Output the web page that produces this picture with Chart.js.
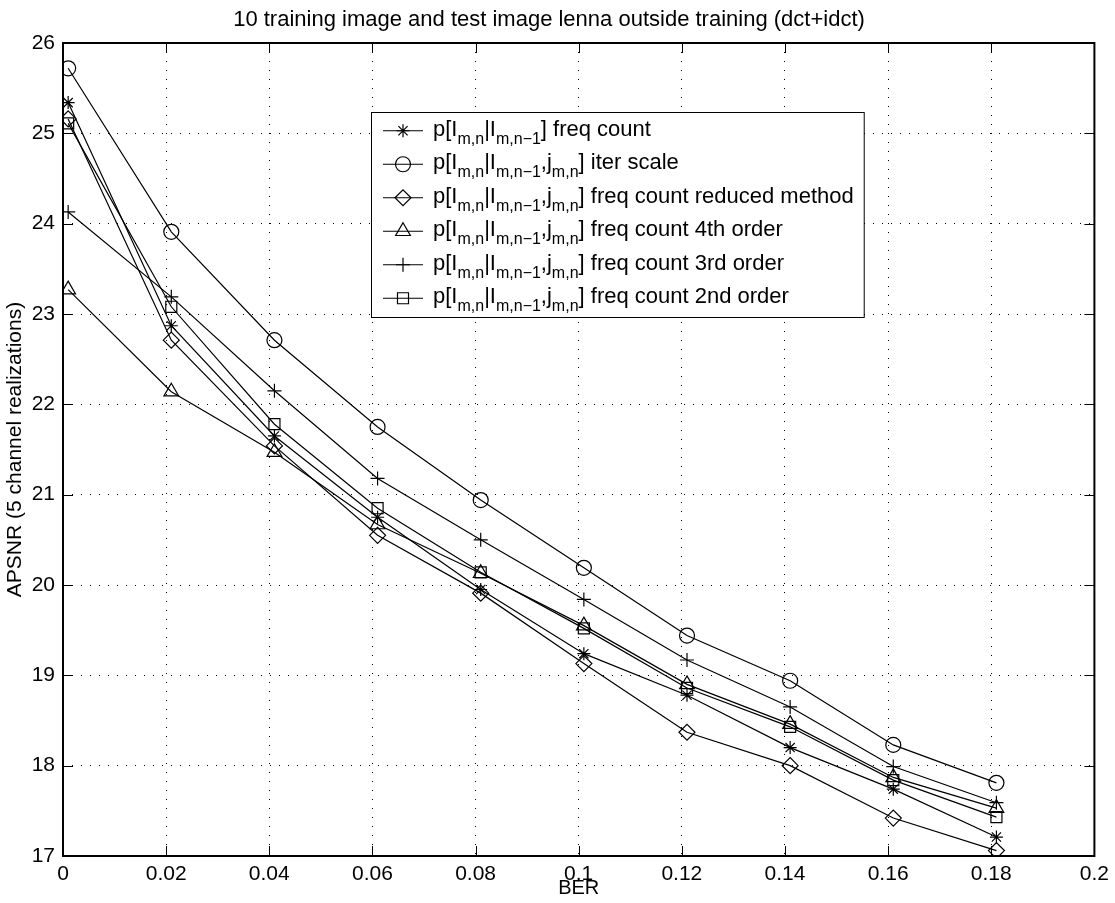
<!DOCTYPE html>
<html><head><meta charset="utf-8">
<script src="https://cdn.jsdelivr.net/npm/chart.js@4/dist/chart.umd.min.js"></script>
<style>html,body{margin:0;padding:0;background:#fff}#wrap{width:1115px;height:903px}</style>
</head><body><div id="wrap"><canvas id="c" width="1115" height="903"></canvas></div>
<script>
// ---- data ----
const berValues     = [0.001,0.021,0.041,0.061,0.081,0.101,0.121,0.141,0.161,0.181];
const freqCount     = [25.34,22.87,21.65,20.75,19.95,19.24,18.78,18.20,17.74,17.21];
const iterScale     = [25.72,23.91,22.71,21.75,20.94,20.19,19.44,18.94,18.23,17.81];
const reducedMethod = [25.16,22.71,21.54,20.55,19.91,19.13,18.37,18.00,17.42,17.06];
const order4th      = [23.27,22.14,21.47,20.67,20.13,19.55,18.90,18.46,17.87,17.53];
const order3rd      = [24.13,23.19,22.15,21.18,20.50,19.84,19.17,18.65,17.99,17.59];
const order2nd      = [25.11,23.08,21.78,20.85,20.14,19.52,18.86,18.43,17.84,17.43];
const seriesLabels = [
  'p[I_{m,n}|I_{m,n\u22121}] freq count',
  'p[I_{m,n}|I_{m,n\u22121},j_{m,n}] iter scale',
  'p[I_{m,n}|I_{m,n\u22121},j_{m,n}] freq count reduced method',
  'p[I_{m,n}|I_{m,n\u22121},j_{m,n}] freq count 4th order',
  'p[I_{m,n}|I_{m,n\u22121},j_{m,n}] freq count 3rd order',
  'p[I_{m,n}|I_{m,n\u22121},j_{m,n}] freq count 2nd order'
];
const seriesValues = [freqCount, iterScale, reducedMethod, order4th, order3rd, order2nd];
const markerStyles = ['star','circle','rectRot','triangle','cross','rect'];
const markerSizes  = [6.5, 7.5, 8, 8.5, 7, 7.8];
const chartTitle = '10 training image and test image lenna outside training (dct+idct)';
const xTitle = 'BER';
const yTitle = 'APSNR (5 channel realizations)';

const FONT = "'Liberation Sans', Arial, Helvetica, sans-serif";

const datasets = seriesValues.map((vals, i) => ({
  label: seriesLabels[i],
  data: berValues.map((b, k) => ({x: b, y: vals[k]})),
  borderColor: '#000',
  borderWidth: 1.2,
  backgroundColor: 'rgba(0,0,0,0)',
  pointStyle: markerStyles[i],
  pointRadius: markerSizes[i],
  pointBorderColor: '#000',
  pointBackgroundColor: 'rgba(0,0,0,0)',
  pointBorderWidth: 1.2,
  tension: 0,
  fill: false
}));

function parseTex(s) {
  const parts = [];
  const re = /_\{([^}]*)\}/g;
  let last = 0, m;
  while ((m = re.exec(s)) !== null) {
    if (m.index > last) parts.push({t: s.slice(last, m.index), sub: false});
    parts.push({t: m[1], sub: true});
    last = re.lastIndex;
  }
  if (last < s.length) parts.push({t: s.slice(last), sub: false});
  return parts;
}

const matlabBox = {
  id: 'matlabBox',
  beforeDatasetsDraw(chart) {
    const {ctx, chartArea: a, scales: {x, y}} = chart;
    ctx.save();
    ctx.strokeStyle = '#000';
    ctx.lineWidth = 1;
    ctx.beginPath();
    x.ticks.forEach(t => {
      const px = Math.round(x.getPixelForValue(t.value)) + 0.5;
      ctx.moveTo(px, a.bottom); ctx.lineTo(px, a.bottom - 10);
      ctx.moveTo(px, a.top); ctx.lineTo(px, a.top + 10);
    });
    y.ticks.forEach(t => {
      const py = Math.round(y.getPixelForValue(t.value)) + 0.5;
      ctx.moveTo(a.left, py); ctx.lineTo(a.left + 10, py);
      ctx.moveTo(a.right, py); ctx.lineTo(a.right - 10, py);
    });
    ctx.stroke();
    ctx.lineWidth = 2;
    ctx.strokeRect(a.left, a.top, a.right - a.left, a.bottom - a.top);
    ctx.restore();
  }
};

const texLegend = {
  id: 'texLegend',
  afterDraw(chart) {
    const ctx = chart.ctx;
    const mainFont = '22px ' + FONT, subFont = '16px ' + FONT;
    const left = 371, top = 112, rowH = 33.5, textX = 62, padR = 10;
    const rows = seriesLabels.map(parseTex);
    let maxW = 0;
    rows.forEach(parts => {
      let w = 0;
      parts.forEach(p => { ctx.font = p.sub ? subFont : mainFont; w += ctx.measureText(p.t).width; });
      maxW = Math.max(maxW, w);
    });
    const width = textX + maxW + padR;
    const height = rowH * rows.length + 4;
    ctx.save();
    ctx.fillStyle = '#fff';
    ctx.fillRect(left, top, width, height);
    ctx.strokeStyle = '#000';
    ctx.lineWidth = 1;
    ctx.strokeRect(left + 0.5, top + 0.5, width, height);
    rows.forEach((parts, i) => {
      const cy = top + 2 + rowH * (i + 0.5);
      ctx.strokeStyle = '#000';
      ctx.lineWidth = 1.2;
      ctx.beginPath();
      ctx.moveTo(left + 12, cy); ctx.lineTo(left + 52, cy);
      ctx.stroke();
      ctx.fillStyle = 'rgba(0,0,0,0)';
      Chart.helpers.drawPoint(ctx, {
        pointStyle: markerStyles[i], radius: markerSizes[i], rotation: 0, borderWidth: 1.2
      }, left + 32, cy);
      let x = left + textX;
      const base = cy + 5;
      ctx.fillStyle = '#000';
      ctx.textBaseline = 'alphabetic';
      ctx.textAlign = 'left';
      parts.forEach(p => {
        ctx.font = p.sub ? subFont : mainFont;
        ctx.fillText(p.t, x, p.sub ? base + 8 : base);
        x += ctx.measureText(p.t).width;
      });
    });
    ctx.restore();
  }
};

new Chart(document.getElementById('c'), {
  type: 'line',
  data: { datasets },
  options: {
    responsive: false,
    animation: false,
    devicePixelRatio: 1,
    layout: { padding: { left: 0, right: 17, top: 0, bottom: 0 } },
    plugins: {
      legend: { display: false },
      tooltip: { enabled: false },
      title: {
        display: true, text: chartTitle, color: '#000',
        font: { family: FONT, size: 22, weight: 'normal' },
        padding: { top: 7, bottom: 9.6 }
      }
    },
    scales: {
      x: {
        type: 'linear', min: 0, max: 0.2,
        afterFit(s) { s.height = 47; },
        ticks: {
          stepSize: 0.02, color: '#000', padding: 6, maxRotation: 0,
          font: { family: FONT, size: 21 },
          callback: v => String(parseFloat(Number(v).toFixed(2)))
        },
        grid: { color: '#000', lineWidth: 1, drawTicks: false },
        border: { display: false, dash: [1, 8] },
        title: {
          display: true, text: xTitle, color: '#000',
          font: { family: FONT, size: 20 }, padding: { top: 0, bottom: 3 }
        }
      },
      y: {
        type: 'linear', min: 17, max: 26,
        afterFit(s) { s.width = 63; },
        ticks: {
          stepSize: 1, color: '#000', padding: 8,
          font: { family: FONT, size: 21 }
        },
        grid: { color: '#000', lineWidth: 1, drawTicks: false },
        border: { display: false, dash: [1, 8] },
        title: {
          display: true, text: yTitle, color: '#000',
          font: { family: FONT, size: 21 }, padding: { top: 3, bottom: 0 }
        }
      }
    }
  },
  plugins: [matlabBox, texLegend]
});
</script>
</body></html>
